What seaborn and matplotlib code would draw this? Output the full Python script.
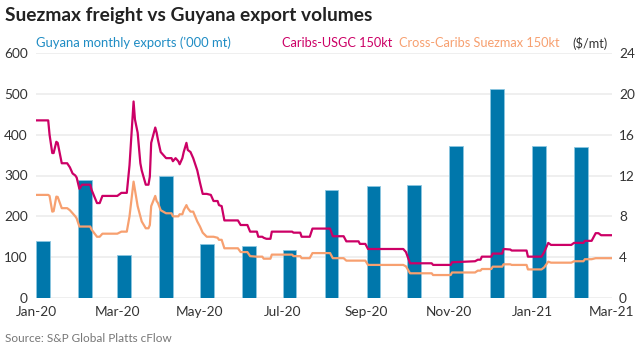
import pandas as pd
import matplotlib.pyplot as plt
import matplotlib.dates as mdates
import seaborn as sns

# monthly export volumes ('000 mt), bar drawn at start of month
months = pd.date_range("2020-01-01", "2021-02-01", freq="MS")
exports = [140, 290, 105, 300, 133, 127, 117, 265, 275, 277, 373, 511, 372, 370]

# freight assessments ($/mt)
freight_dates = [
    "2020-01-01", "2020-01-10", "2020-01-11", "2020-01-13", "2020-01-14", "2020-01-16",
    "2020-01-17", "2020-01-20", "2020-01-24", "2020-01-26", "2020-01-28", "2020-01-30",
    "2020-01-31", "2020-02-02", "2020-02-04", "2020-02-10", "2020-02-11", "2020-02-15",
    "2020-02-17", "2020-02-19", "2020-03-01", "2020-03-04", "2020-03-08", "2020-03-10",
    "2020-03-13", "2020-03-14", "2020-03-16", "2020-03-18", "2020-03-19", "2020-03-22",
    "2020-03-24", "2020-03-25", "2020-03-26", "2020-03-29", "2020-03-30", "2020-03-31",
    "2020-04-02", "2020-04-06", "2020-04-10", "2020-04-11", "2020-04-13", "2020-04-15",
    "2020-04-16", "2020-04-18", "2020-04-19", "2020-04-21", "2020-04-22", "2020-04-24",
    "2020-04-26", "2020-04-29", "2020-05-01", "2020-05-03", "2020-05-06", "2020-05-09",
    "2020-05-11", "2020-05-14", "2020-05-15", "2020-05-17", "2020-05-19", "2020-05-29",
    "2020-05-31", "2020-06-05", "2020-06-07", "2020-06-12", "2020-06-13", "2020-06-16",
    "2020-06-17", "2020-06-19", "2020-06-22", "2020-06-23", "2020-07-08", "2020-07-09",
    "2020-07-14", "2020-07-15", "2020-07-21", "2020-07-23", "2020-08-05", "2020-08-07",
    "2020-08-15", "2020-08-17", "2020-08-26", "2020-08-27", "2020-08-31", "2020-09-02",
    "2020-09-28", "2020-09-30", "2020-10-03", "2020-10-19", "2020-10-20", "2020-11-02",
    "2020-11-03", "2020-11-20", "2020-11-22", "2020-11-24", "2020-11-25", "2020-12-02",
    "2020-12-03", "2020-12-10", "2020-12-11", "2020-12-16", "2020-12-17", "2020-12-28",
    "2020-12-29", "2021-01-08", "2021-01-10", "2021-01-13", "2021-01-15", "2021-01-30",
    "2021-02-01", "2021-02-08", "2021-02-09", "2021-02-14", "2021-02-17", "2021-02-19",
    "2021-02-21", "2021-03-01",
]
caribs_usgc = [
    17.4, 17.4, 16.0, 14.2, 14.2, 15.3, 15.2, 13.2, 13.2, 12.8, 12.2, 12.0,
    11.8, 10.7, 11.1, 11.1, 10.6, 9.3, 9.3, 10.0, 10.0, 10.3, 10.3, 13.0,
    19.25, 17.5, 16.2, 13.2, 12.5, 11.1, 11.1, 11.9, 15.2, 16.7, 16.2, 15.5,
    14.3, 13.7, 13.7, 13.4, 13.7, 13.4, 13.1, 13.7, 14.3, 15.2, 14.5, 14.3,
    13.7, 12.5, 11.3, 10.2, 10.2, 10.1, 9.5, 9.5, 9.1, 9.0, 7.6, 7.6,
    7.15, 7.15, 6.5, 6.5, 6.0, 6.0, 5.9, 5.8, 5.8, 6.5, 6.5, 6.4,
    6.4, 6.0, 6.0, 6.8, 6.8, 6.05, 6.05, 5.55, 5.55, 5.3, 5.3, 4.8,
    4.8, 4.5, 3.4, 3.4, 3.24, 3.24, 3.5, 3.6, 3.75, 3.75, 4.05, 4.05,
    4.35, 4.35, 4.8, 4.75, 4.65, 4.65, 4.05, 4.05, 4.5, 5.4, 5.2, 5.2,
    5.4, 5.4, 5.6, 5.6, 6.35, 6.35, 6.15, 6.15,
]
cross_caribs = [
    10.1, 10.1, 10.0, 8.46, 8.5, 9.93, 9.9, 8.8, 8.8, 8.6, 8.3, 8.0,
    7.8, 7.0, 7.0, 7.0, 6.7, 6.0, 6.0, 6.3, 6.3, 6.5, 6.5, 8.0,
    11.4, 10.6, 9.0, 8.0, 7.5, 6.83, 6.83, 7.15, 9.0, 10.0, 9.5, 9.3,
    8.6, 8.3, 8.3, 8.0, 8.0, 8.0, 8.2, 8.2, 8.6, 9.1, 8.8, 8.46,
    8.46, 7.5, 7.0, 6.4, 6.0, 6.0, 6.0, 5.9, 5.7, 5.7, 4.87, 4.87,
    4.5, 4.5, 4.1, 4.05, 4.05, 4.05, 3.85, 3.85, 3.85, 4.25, 4.25, 4.1,
    4.1, 3.9, 3.9, 4.4, 4.4, 3.9, 3.9, 3.66, 3.66, 3.66, 3.66, 3.24,
    3.24, 3.1, 2.42, 2.42, 2.25, 2.25, 2.5, 2.5, 2.68, 2.68, 2.84, 2.84,
    3.07, 3.07, 3.3, 3.3, 3.24, 3.24, 2.8, 2.8, 3.0, 3.56, 3.46, 3.46,
    3.6, 3.6, 3.8, 3.8, 3.9, 3.9, 3.9, 3.9,
]

blue = "#0077AB"
red = "#CC0066"
orange = "#F7A070"

sns.set_theme(style="white")
plt.rcParams["font.family"] = ["Lato", "DejaVu Sans"]

fig = plt.figure(figsize=(6.35, 3.51), dpi=100)
ax = fig.add_axes([0.0567, 0.151, 0.907, 0.698])
ax2 = ax.twinx()

ax.bar(months, exports, width=10, align="edge", color=blue,
       edgecolor="#8cc6e0", linewidth=0.6, zorder=2)

fd = pd.to_datetime(freight_dates)
sns.lineplot(x=fd, y=caribs_usgc, ax=ax2, color=red, linewidth=1.6)
sns.lineplot(x=fd, y=cross_caribs, ax=ax2, color=orange, linewidth=1.6)

ax.set_ylim(0, 600)
ax.set_yticks(range(0, 601, 100))
ax2.set_ylim(0, 24)
ax2.set_yticks(range(0, 25, 4))
ax.set_xlim(pd.Timestamp("2020-01-01"), pd.Timestamp("2021-03-01"))
ax.xaxis.set_major_locator(mdates.MonthLocator(interval=2))
ax.xaxis.set_major_formatter(mdates.DateFormatter("%b-%y"))

ax.grid(axis="y", color="#ececec", linewidth=1.2, zorder=0)
ax.set_axisbelow(True)
for a in (ax, ax2):
    for s in a.spines.values():
        s.set_visible(False)
    a.tick_params(length=0, labelsize=9.8, colors="#333333")
    a.set_xlabel("")
    a.set_ylabel("")
ax.tick_params(axis="x", pad=6)
ax.tick_params(axis="y", pad=6)
ax2.tick_params(axis="y", pad=5)

fig.text(0.008, 0.955, "Suezmax freight vs Guyana export volumes",
         fontsize=13.8, fontweight="bold", color="#222222", va="center")
fig.text(0.057, 0.877, "Guyana monthly exports ('000 mt)", color="#1f8cc4",
         fontsize=9.4, va="center")
fig.text(0.444, 0.877, "Caribs-USGC 150kt", color=red, fontsize=9.2, va="center")
fig.text(0.628, 0.877, "Cross-Caribs Suezmax 150kt", color=orange, fontsize=9.2,
         va="center")
fig.text(0.901, 0.877, "($/mt)", color="#333333", fontsize=9.2, va="center")
fig.text(0.008, 0.037, "Source: S&P Global Platts cFlow", color="#777777",
         fontsize=8.5, va="center")

fig.savefig("out.png", dpi=100)
